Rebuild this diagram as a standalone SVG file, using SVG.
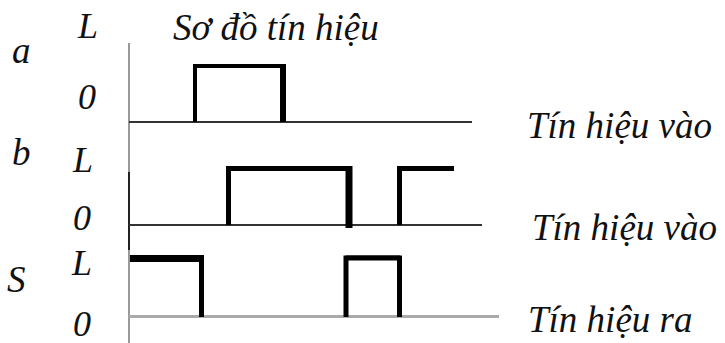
<svg xmlns="http://www.w3.org/2000/svg" width="725" height="343" viewBox="0 0 725 343">
<style>
text{font-family:"Liberation Serif","Times New Roman",serif;font-style:italic;font-size:37px;fill:#111}
.sm{font-size:36px}
.axis{stroke:#999;stroke-width:2;fill:none}
.axisd{stroke:#222;stroke-width:2;fill:none}
.base{stroke:#333;stroke-width:2;fill:none}
.baseg{stroke:#aaa;stroke-width:3;fill:none}
.p{stroke:#000;fill:none;stroke-linejoin:miter;stroke-linecap:butt}
</style>
<rect width="725" height="343" fill="#fff"/>
<text x="173" y="40">Sơ đồ tín hiệu</text>
<g id="axis">
<line class="axis" x1="129" y1="43" x2="129" y2="172"/>
<line class="axisd" x1="129" y1="172" x2="129" y2="250"/>
<line class="axis" x1="129" y1="250" x2="129" y2="343"/>
</g>
<g id="signal-a">
<text x="12" y="63">a</text>
<text class="sm" x="78" y="38">L</text>
<text class="sm" x="78" y="109">0</text>
<line class="base" x1="129" y1="122" x2="472" y2="122"/>
<path class="p" stroke-width="4" d="M195 122 V66 H283"/>
<path class="p" stroke-width="6" d="M283 64 V122"/>
<text x="527" y="138">Tín hiệu vào</text>
</g>
<g id="signal-b">
<text x="12" y="165">b</text>
<text class="sm" x="73" y="172">L</text>
<text class="sm" x="73" y="230">0</text>
<line class="base" x1="129" y1="225" x2="482" y2="225"/>
<path class="p" stroke-width="5" d="M228.5 225 V168.5 H347"/>
<path class="p" stroke-width="7" d="M349 166 V228"/>
<path class="p" stroke-width="5" d="M399.5 225 V168.5 H454"/>
<text x="532" y="240">Tín hiệu vào</text>
</g>
<g id="signal-s">
<text x="7" y="292">S</text>
<text class="sm" x="72" y="275">L</text>
<text class="sm" x="73" y="336">0</text>
<line class="baseg" x1="129" y1="316.5" x2="499" y2="316.5"/>
<path class="p" stroke-width="7" d="M130 258.5 H199"/>
<path class="p" stroke-width="5" d="M201.5 255 V317"/>
<path class="p" stroke-width="5" d="M346 317 V258 H399.5 V317"/>
<path class="p" stroke-width="3" d="M346 257 H400"/>
<text x="528" y="332">Tín hiệu ra</text>
</g>
</svg>
